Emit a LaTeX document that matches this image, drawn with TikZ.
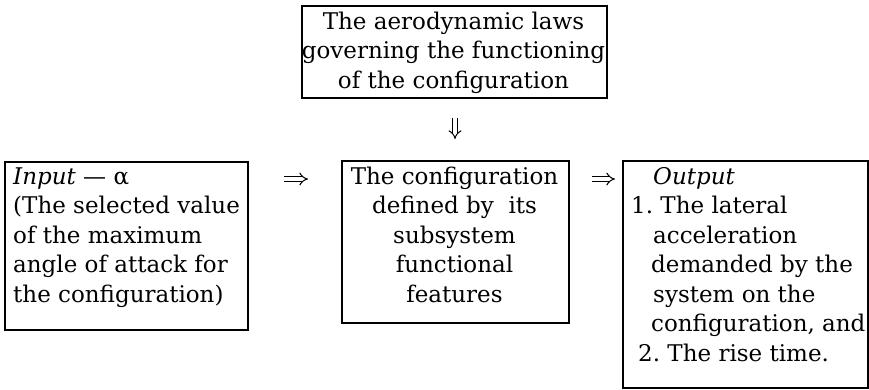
\documentclass[tikz,border=0pt]{standalone}
\usepackage{fontspec}
\setmainfont{DejaVu Serif}
\usetikzlibrary{arrows.meta}
\begin{document}
\begin{tikzpicture}[x=1pt,y=-1pt,
  box/.style={draw, line width=1.8pt, inner sep=0pt, anchor=north west},
  txt/.style={inner sep=0pt, font=\fontsize{23}{29.5}\selectfont\frenchspacing},
  imp/.style={double, double distance=3.5pt, line width=1pt, -{Implies}}]
\useasboundingbox[fill=white] (0,0) rectangle (869,389);

% frames
\node[box, minimum width=305pt, minimum height=92pt]  (lawsbox) at (301,5)   {};
\node[box, minimum width=243pt, minimum height=168pt] (inbox)   at (4,161)   {};
\node[box, minimum width=227pt, minimum height=162pt] (cfgbox)  at (341,160) {};
\node[box, minimum width=245pt, minimum height=227pt] (outbox)  at (622,160) {};

% texts (first baseline = north + strut height)
\node[txt, anchor=north, align=center] (lawstxt) at (453.5,8.35)
  {\strut The aerodynamic laws\\governing the functioning\\of the configuration};
\node[txt, anchor=north west, align=left] (intxt) at (13,163.35)
  {\strut\textit{Input} — α\\(The selected value\\of the maximum\\angle of attack for\\the configuration)};
\node[txt, anchor=north, align=center] (cfgtxt) at (454.5,163.35)
  {\strut The configuration\\defined by\ \ its\\subsystem\\functional\\features};
\node[txt, anchor=north west, align=left] (outtxt) at (631,163.35)
  {\strut\hspace*{22pt}\textit{Output}\\1. The lateral\\\hspace*{22pt}acceleration\\\hspace*{20pt}demanded by the\\\hspace*{22pt}system on the\\\hspace*{20pt}configuration, and\\\hspace*{7pt}2. The rise time.};

% implication arrows
\coordinate (dnA) at (455,118);  \coordinate (dnB) at (455,139);
\coordinate (rtA) at (284,179);  \coordinate (rtB) at (308,179);
\coordinate (rtC) at (592,179);  \coordinate (rtD) at (615,179);
\draw[imp] (dnA) -- (dnB);
\draw[imp] (rtA) -- (rtB);
\draw[imp] (rtC) -- (rtD);
\end{tikzpicture}
\end{document}
